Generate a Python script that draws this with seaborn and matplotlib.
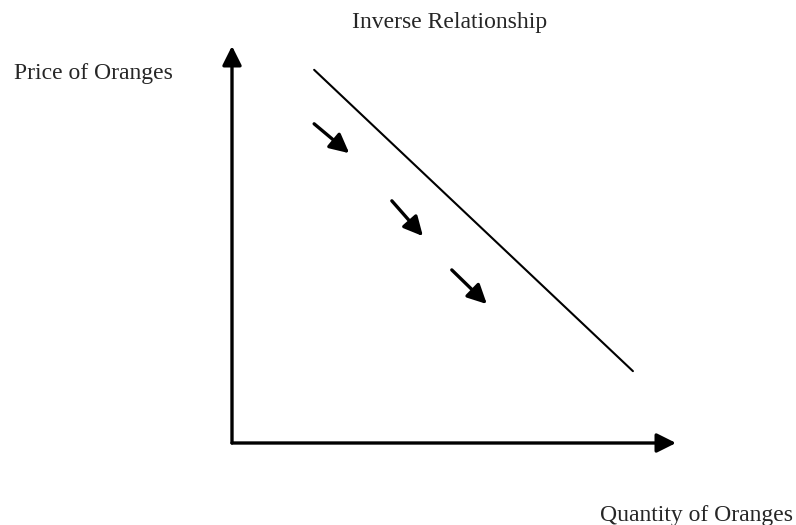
import matplotlib
matplotlib.use("Agg")
import matplotlib.pyplot as plt
import seaborn as sns
import pandas as pd

# ---- data (axis units 0..10) ----
quantity = [1.85, 9.03]          # demand line, x
price = [9.40, 1.81]             # demand line, y
arrow_start_x = [1.85, 3.60, 4.95]
arrow_start_y = [8.04, 6.10, 4.36]
arrow_end_x = [2.64, 4.30, 5.74]
arrow_end_y = [7.30, 5.21, 3.50]

title = "Inverse Relationship"
y_label = "Price of Oranges"
x_label = "Quantity of Oranges"

sns.set_theme(style="white")
plt.rcParams['font.family'] = ['Liberation Serif', 'DejaVu Serif']

W, H = 796, 525
fig = plt.figure(figsize=(W / 100, H / 100), dpi=100)
ax = fig.add_axes([232 / W, (H - 443) / H, 444 / W, 397 / H])
ax.set_xlim(0, 10)
ax.set_ylim(0, 10)
ax.set_xticks([])
ax.set_yticks([])
for s in ax.spines.values():
    s.set_visible(False)
ax.patch.set_alpha(0)

df = pd.DataFrame({"Quantity": quantity, "Price": price})
sns.lineplot(data=df, x="Quantity", y="Price", ax=ax, color="black",
             linewidth=1.5, sort=False)
ax.set_xlabel("")
ax.set_ylabel("")

style = "-|>,head_length=0.4,head_width=0.2"
# axes with arrowheads
ax.annotate("", xy=(0, 1), xytext=(0, 0), xycoords="axes fraction",
            arrowprops=dict(arrowstyle=style, color="black", lw=2.4,
                            mutation_scale=29, shrinkA=0, shrinkB=0),
            annotation_clip=False)
ax.annotate("", xy=(1, 0), xytext=(0, 0), xycoords="axes fraction",
            arrowprops=dict(arrowstyle=style, color="black", lw=2.4,
                            mutation_scale=29, shrinkA=0, shrinkB=0),
            annotation_clip=False)

for x0, y0, x1, y1 in zip(arrow_start_x, arrow_start_y, arrow_end_x, arrow_end_y):
    ax.annotate("", xy=(x1, y1), xytext=(x0, y0),
                arrowprops=dict(arrowstyle=style, color="black", lw=2.4,
                                mutation_scale=29, shrinkA=0, shrinkB=0))

fig.text(450 / W, 1 - 28.3 / H, title, ha="center", va="baseline", fontsize=17)
fig.text(93 / W, 1 - 79 / H, y_label, ha="center", va="baseline", fontsize=17)
fig.text(696 / W, 1 - 521 / H, x_label, ha="center", va="baseline", fontsize=17)

fig.savefig("out.png", dpi=100, facecolor="white")
